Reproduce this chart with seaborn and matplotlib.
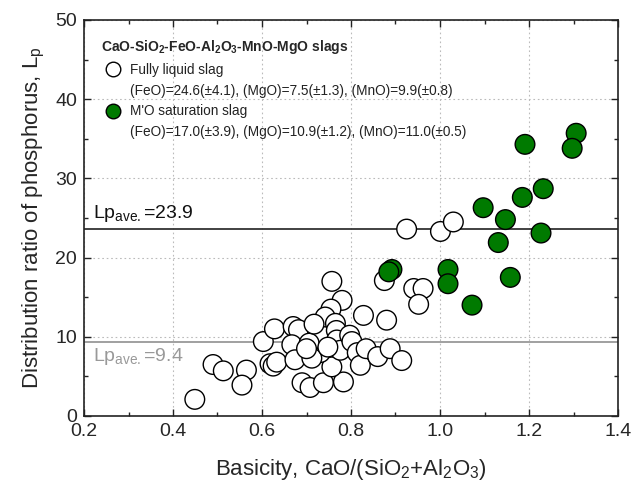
import matplotlib
matplotlib.use("Agg")
import matplotlib.pyplot as plt
import numpy as np
import pandas as pd
import seaborn as sns
from matplotlib.lines import Line2D
from matplotlib.ticker import MultipleLocator

# Fully liquid slag (basicity, Lp)
liquid_x = [0.449, 0.490, 0.513, 0.565, 0.555, 0.603, 0.628, 0.618, 0.625, 0.633,
            0.670, 0.682, 0.667, 0.674, 0.690, 0.708, 0.738, 0.783, 0.757, 0.731,
            0.723, 0.735, 0.757, 0.780, 0.755, 0.742, 0.765, 0.767, 0.768, 0.776,
            0.797, 0.802, 0.814, 0.821, 0.828, 0.706, 0.712, 0.748, 0.834, 0.860,
            0.880, 0.888, 0.914, 0.875, 0.941, 0.962, 0.952, 0.925, 1.001, 1.030,
            0.700, 0.717]
liquid_y = [2.1, 6.5, 5.7, 5.8, 3.9, 9.4, 11.0, 6.6, 6.3, 6.8,
            11.3, 10.9, 9.0, 7.1, 4.2, 3.6, 4.2, 4.3, 6.2, 8.0,
            11.2, 10.5, 17.0, 14.6, 13.5, 12.5, 11.7, 10.8, 9.6, 8.3,
            10.2, 9.4, 8.0, 6.4, 12.7, 9.2, 7.3, 8.7, 8.5, 7.5,
            12.1, 8.5, 7.0, 17.1, 16.1, 16.1, 14.1, 23.6, 23.3, 24.5,
            8.5, 11.6]

# M'O saturation slag
sat_x = [1.306, 1.297, 1.191, 1.232, 1.185, 1.097, 1.147, 1.227, 1.131, 1.018,
         1.018, 1.158, 1.072, 0.892, 0.885]
sat_y = [35.7, 33.8, 34.3, 28.7, 27.6, 26.3, 24.8, 23.1, 21.9, 18.5,
         16.7, 17.5, 14.0, 18.5, 18.2]

lp_avg_values = [23.6, 9.4]
lp_avg_labels = ["23.9", "9.4"]

group_names = ["Fully liquid slag", "M'O saturation slag"]
group_notes = ["(FeO)=24.6(\u00b14.1), (MgO)=7.5(\u00b11.3), (MnO)=9.9(\u00b10.8)",
               "(FeO)=17.0(\u00b13.9), (MgO)=10.9(\u00b11.2), (MnO)=11.0(\u00b10.5)"]
group_colors = ["white", "#007a00"]

df = pd.DataFrame({
    "basicity": liquid_x + sat_x,
    "lp": liquid_y + sat_y,
    "group": [group_names[0]] * len(liquid_x) + [group_names[1]] * len(sat_x),
})

sns.set_theme(style="ticks")
plt.rcParams['font.family'] = ['Liberation Sans', 'DejaVu Sans']
plt.rcParams['mathtext.fontset'] = 'custom'
plt.rcParams['mathtext.rm'] = 'Liberation Sans'
plt.rcParams['mathtext.it'] = 'Liberation Sans:italic'
plt.rcParams['mathtext.bf'] = 'Liberation Sans:bold'
plt.rcParams['mathtext.default'] = 'regular'

fig = plt.figure(figsize=(6.32, 4.92), dpi=100)
ax = fig.add_axes([84 / 632, 1 - 416 / 492, (618 - 84) / 632, (416 - 20) / 492])

ax.grid(True, which="major", linestyle=(0, (1.5, 2.5)), color="#bbbbbb", linewidth=0.8)
ax.set_axisbelow(True)

ax.axhline(lp_avg_values[0], color="#333333", linewidth=1.3, zorder=1)
ax.axhline(lp_avg_values[1], color="#999999", linewidth=1.3, zorder=1)

sns.scatterplot(data=df, x="basicity", y="lp", hue="group",
                palette=dict(zip(group_names, group_colors)),
                s=200, edgecolor="black", linewidth=1.0, legend=False,
                ax=ax, zorder=3)

ax.text(0.22, lp_avg_values[0] + 0.7, r"Lp$_{\mathrm{ave.}}$=" + lp_avg_labels[0],
        fontsize=14, color="#111111", va="bottom", ha="left")
ax.text(0.22, lp_avg_values[1] - 0.6, r"Lp$_{\mathrm{ave.}}$=" + lp_avg_labels[1],
        fontsize=14, color="#999999", va="top", ha="left")

ax.set_xlim(0.2, 1.4)
ax.set_ylim(0, 50)
ax.xaxis.set_major_locator(MultipleLocator(0.2))
ax.xaxis.set_minor_locator(MultipleLocator(0.1))
ax.yaxis.set_major_locator(MultipleLocator(10))
ax.yaxis.set_minor_locator(MultipleLocator(5))
ax.xaxis.set_major_formatter(matplotlib.ticker.FormatStrFormatter("%.1f"))
ax.tick_params(which="major", direction="in", top=True, right=True, length=5,
               width=1, labelsize=14, pad=5, color="#222222")
ax.tick_params(which="minor", direction="in", top=True, right=True, length=3,
               width=1, color="#222222")
for sp in ax.spines.values():
    sp.set_color("#222222")
    sp.set_linewidth(1.2)

ax.set_xlabel(r"Basicity, CaO/(SiO$_2$+Al$_2$O$_3$)", fontsize=16, labelpad=12)
ax.set_ylabel(r"Distribution ratio of phosphorus, L$_p$", fontsize=16, labelpad=6)

handles = [
    Line2D([], [], marker="o", linestyle="none", markersize=10.5,
           markerfacecolor=group_colors[0], markeredgecolor="black", markeredgewidth=1.0),
    Line2D([], [], linestyle="none"),
    Line2D([], [], marker="o", linestyle="none", markersize=10.5,
           markerfacecolor=group_colors[1], markeredgecolor="black", markeredgewidth=1.0),
    Line2D([], [], linestyle="none"),
]
labels = [group_names[0], group_notes[0], group_names[1], group_notes[1]]
leg = ax.legend(handles, labels, loc="upper left", bbox_to_anchor=(0.0174, 0.975),
                frameon=False, fontsize=9.8, handlelength=1.7, handletextpad=0.4,
                labelspacing=0.5, borderaxespad=0.2, alignment="left",
                title=r"CaO-SiO$_\mathbf{2}$-FeO-Al$_\mathbf{2}$O$_\mathbf{3}$-MnO-MgO slags",
                title_fontproperties={"weight": "bold", "size": 10})
for t in leg.get_texts():
    t.set_color("#222222")

fig.savefig("out.png", dpi=100)
